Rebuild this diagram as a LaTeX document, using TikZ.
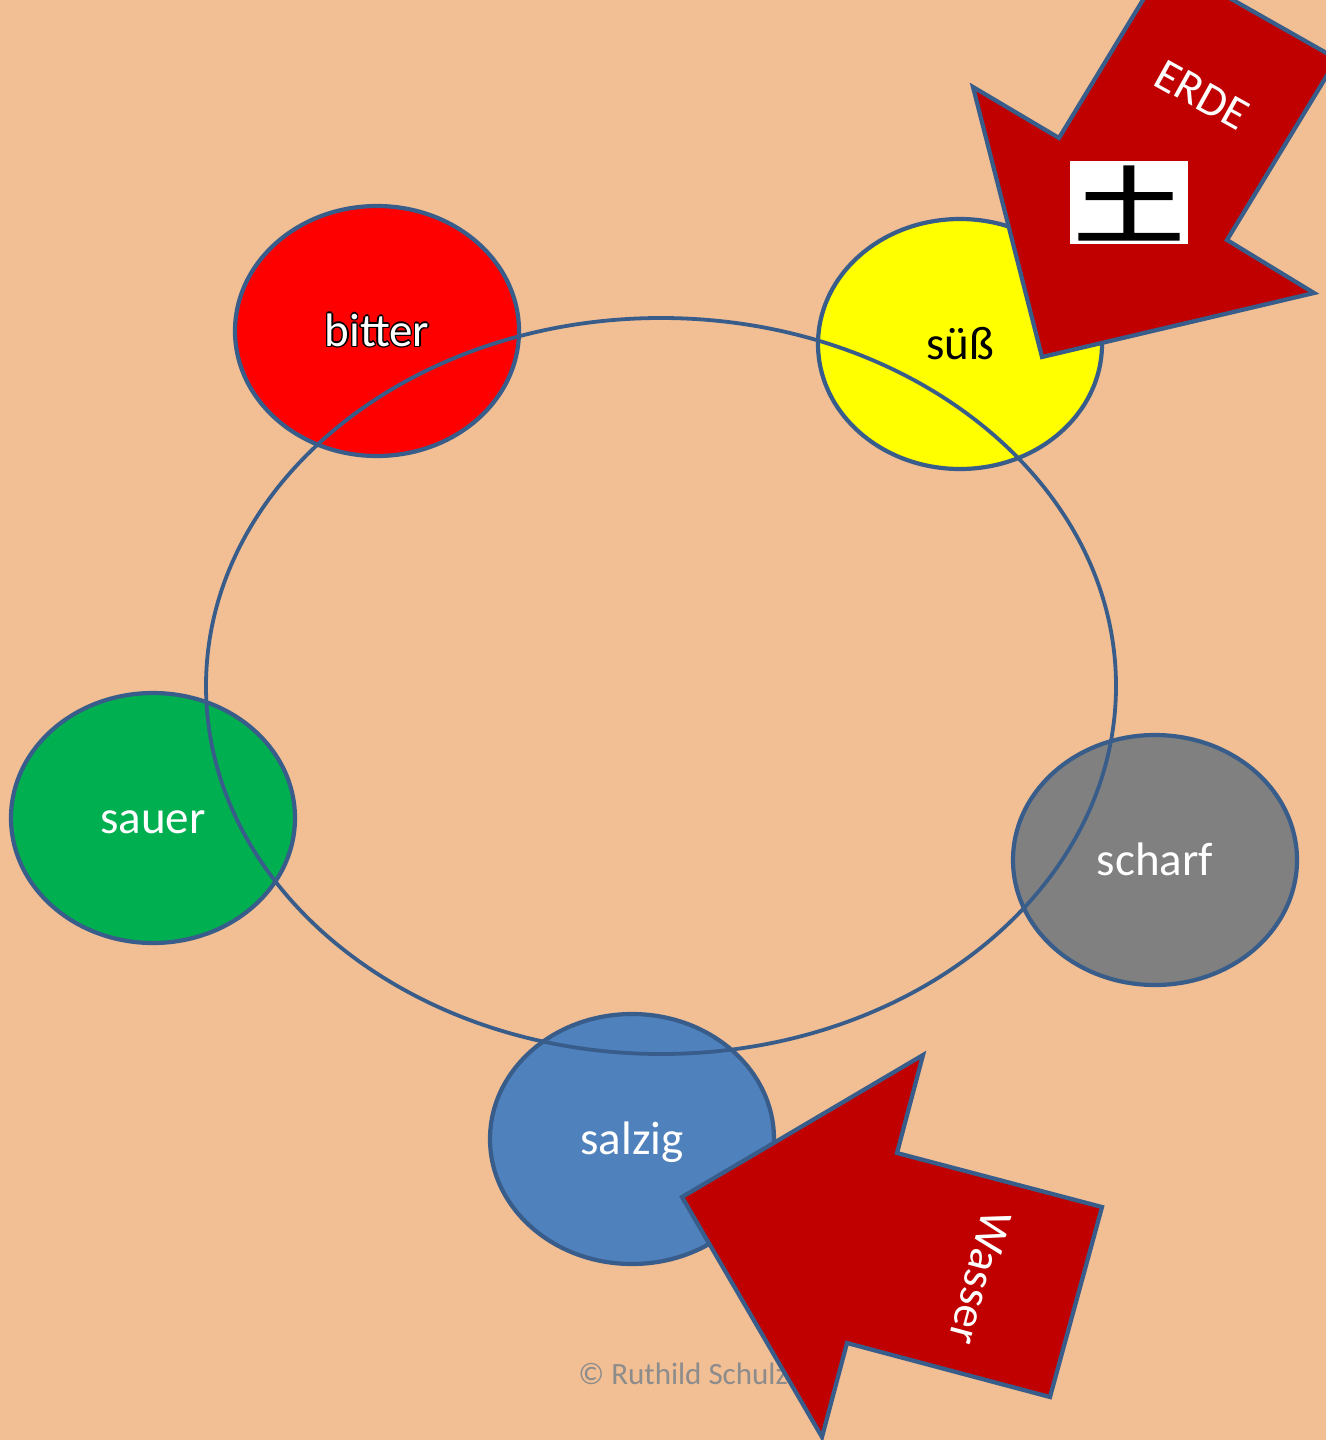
\documentclass[tikz,border=0pt]{standalone}
\usepackage{fontspec}
\setmainfont{Carlito}
\newfontfamily\cjk[FakeBold=2]{Noto Sans CJK SC}
\usetikzlibrary{shapes.geometric}
\definecolor{bg}{RGB}{242,190,148}
\definecolor{edge}{RGB}{56,93,138}
\definecolor{arrowred}{RGB}{192,0,0}
\definecolor{saltblue}{RGB}{79,129,189}
\definecolor{sourgreen}{RGB}{0,176,80}
\definecolor{hotgray}{RGB}{128,128,128}
\definecolor{sweetyellow}{RGB}{255,255,0}
\definecolor{bitterred}{RGB}{255,0,0}
\definecolor{copygray}{RGB}{140,140,140}
\begin{document}
\begin{tikzpicture}[x=0.5pt,y=-0.5pt,
  taste/.style={ellipse, draw=edge, line width=2.1pt, minimum width=142pt, minimum height=125pt, inner sep=0pt},
  lbl/.style={font=\fontsize{23.5}{28}\selectfont, anchor=base, inner sep=0pt},
  bigarrow/.style={draw=edge, fill=arrowred, line width=2.1pt, line join=miter},
  arrowtext/.style={font=\fontsize{23}{28}\selectfont, text=white, inner sep=0pt}]
\useasboundingbox (0,0) rectangle (1326,1440);
\clip (0,0) rectangle (1326,1440);
\fill[bg] (0,0) rectangle (1326,1440);
% taste ellipses
\node[taste, fill=bitterred] (bitter) at (377,331) {};
\node[taste, fill=sweetyellow] (suess) at (960,344) {};
\node[taste, fill=sourgreen] (sauer) at (153,818) {};
\node[taste, fill=hotgray] (scharf) at (1155,860) {};
\node[taste, fill=saltblue] (salzig) at (632,1139) {};
% ring
\node[ellipse, draw=edge, line width=1.9pt, minimum width=455pt, minimum height=368pt, inner sep=0pt] (ring) at (661,686) {};
% labels
\foreach \dx/\dy in {0.7/0,-0.7/0,0/0.7,0/-0.7,0.5/0.5,0.5/-0.5,-0.5/0.5,-0.5/-0.5}{
  \node[lbl, text=black] at ([xshift=\dx pt, yshift=-7.5pt+\dy pt]bitter.center) {bitter};
}
\node[lbl, text=white] (tbitter) at ([yshift=-7.5pt]bitter.center) {bitter};
\node[lbl, text=black] (tsuess) at ([yshift=-7.5pt]suess.center) {süß};
\node[lbl, text=white] (tsauer) at ([yshift=-7.5pt]sauer.center) {sauer};
\node[lbl, text=white] (tscharf) at ([yshift=-7.5pt]scharf.center) {scharf};
\node[lbl, text=white] (tsalzig) at ([yshift=-7.5pt]salzig.center) {salzig};
% copyright
\node[font=\fontsize{15.5}{18}\selectfont, text=copygray, anchor=base west, inner sep=0pt] (copy) at (578,1384) {© Ruthild Schulz};
% Wasser arrow
\draw[bigarrow] (682,1197) -- (923,1055) -- (897,1153) -- (1102,1207) -- (1050,1397) -- (847,1343) -- (822,1437) -- cycle;
\node[arrowtext, rotate=-105] (wasser) at (980,1278) {Wasser};
% ERDE arrow
\draw[bigarrow] (1042,357) -- (973,87) -- (1059,138) -- (1166,-38) -- (1337,59) -- (1227,240) -- (1314,293) -- cycle;
\node[arrowtext, rotate=-29] (erde) at (1202,95) {ERDE};
\node[fill=white, minimum width=59pt, minimum height=41.5pt, inner sep=0pt] (earthbox) at (1129,202.5) {};
\node[font=\cjk\fontsize{46}{46}\selectfont, inner sep=0pt, xscale=1.2, yscale=0.92] (earth) at (1129,203) {土};
\end{tikzpicture}
\end{document}
